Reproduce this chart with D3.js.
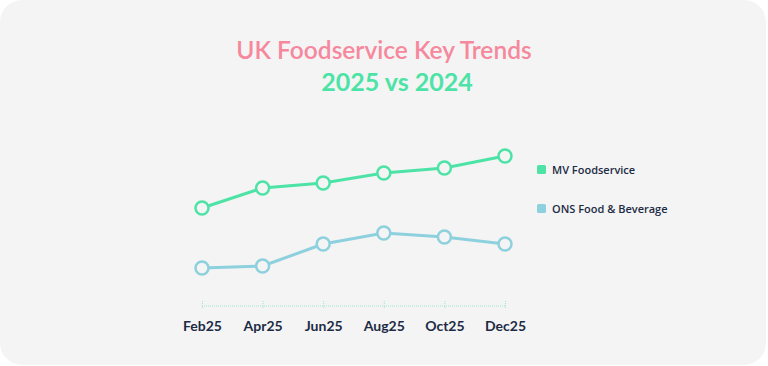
<!DOCTYPE html>
<html>
<head>
<meta charset="utf-8">
<script src="https://cdn.jsdelivr.net/npm/d3@7"></script>
<style>
  body { margin: 0; background: #ffffff; }
  svg { display: block; }
</style>
</head>
<body>
<svg id="chart" width="768" height="366"></svg>
<script>
  // data
  let months = ["Feb25", "Apr25", "Jun25", "Aug25", "Oct25", "Dec25"];
  let mvFoodservice = [4.9, 5.9, 6.15, 6.65, 6.9, 7.5];
  let onsFoodBev = [1.9, 2.0, 3.1, 3.65, 3.45, 3.1];
  let seriesNames = ["MV Foodservice", "ONS Food & Beverage"];
  let seriesColors = ["#4de3a7", "#8dd0de"];

  let svg = d3.select("#chart");

  // card background
  svg.append("rect")
    .attr("x", 0).attr("y", 0)
    .attr("width", 766).attr("height", 365)
    .attr("rx", 22).attr("ry", 22)
    .attr("fill", "#f4f4f4");

  // titles
  svg.append("text")
    .attr("x", 384).attr("y", 59)
    .attr("text-anchor", "middle")
    .style("font-family", "Lato, sans-serif")
    .style("font-size", "24.5px")
    .style("font-weight", "600")
    .attr("fill", "#f6889d")
    .text("UK Foodservice Key Trends");
  svg.append("text")
    .attr("x", 397).attr("y", 91)
    .attr("text-anchor", "middle")
    .style("font-family", "Lato, sans-serif")
    .style("font-size", "25px")
    .style("font-weight", "bold")
    .attr("fill", "#4de3a7")
    .text("2025 vs 2024");

  let x = d3.scalePoint()
    .domain(months)
    .range([202, 505]);

  let y = d3.scaleLinear()
    .domain([0, 10])
    .range([306, 106]);

  // x axis (dotted)
  let axisY = 306;
  let xAxis = svg.append("g")
    .attr("transform", "translate(0," + axisY + ")")
    .call(d3.axisBottom(x).tickSize(0).tickPadding(0));
  xAxis.select(".domain").remove();
  xAxis.selectAll(".tick text").remove();
  xAxis.append("line")
    .attr("x1", x(months[0])).attr("x2", x(months[months.length - 1]))
    .attr("stroke", "#9fe6c6").attr("stroke-width", 1)
    .attr("stroke-dasharray", "1,1");
  xAxis.selectAll(".tick").append("line")
    .attr("y1", -5).attr("y2", 2)
    .attr("stroke", "#9fe6c6").attr("stroke-width", 1)
    .attr("stroke-dasharray", "1,1");
  xAxis.selectAll(".tick").append("text")
    .attr("y", 25)
    .attr("text-anchor", "middle")
    .attr("fill", "#1d2b45")
    .style("font-family", "Lato, sans-serif")
    .style("font-size", "14px")
    .style("font-weight", "bold")
    .text(function(d){ return d; });

  // lines and markers
  let seriesList = [mvFoodservice, onsFoodBev];
  let line = d3.line()
    .x(function(d, i){ return x(months[i]); })
    .y(function(d){ return y(d); });

  seriesList.forEach(function(values, s){
    svg.append("path")
      .datum(values)
      .attr("d", line)
      .attr("fill", "none")
      .attr("stroke", seriesColors[s])
      .attr("stroke-width", 3);
    svg.selectAll(".pt" + s)
      .data(values)
      .enter()
      .append("circle")
      .attr("class", "pt" + s)
      .attr("cx", function(d, i){ return x(months[i]); })
      .attr("cy", function(d){ return y(d); })
      .attr("r", 6.5)
      .attr("fill", "#f4f4f4")
      .attr("stroke", seriesColors[s])
      .attr("stroke-width", 2.5);
  });

  // legend
  let legend = svg.append("g").attr("transform", "translate(537,165)");
  seriesNames.forEach(function(name, i){
    let g = legend.append("g").attr("transform", "translate(0," + (i * 39) + ")");
    g.append("rect")
      .attr("width", 9).attr("height", 9)
      .attr("rx", 1.5)
      .attr("fill", seriesColors[i]);
    g.append("text")
      .attr("x", 15).attr("y", 8.5)
      .attr("fill", "#1d2b45")
      .style("font-family", "'Open Sans', sans-serif")
      .style("font-size", "11px")
      .style("font-weight", "600")
      .text(name);
  });
</script>
</body>
</html>
